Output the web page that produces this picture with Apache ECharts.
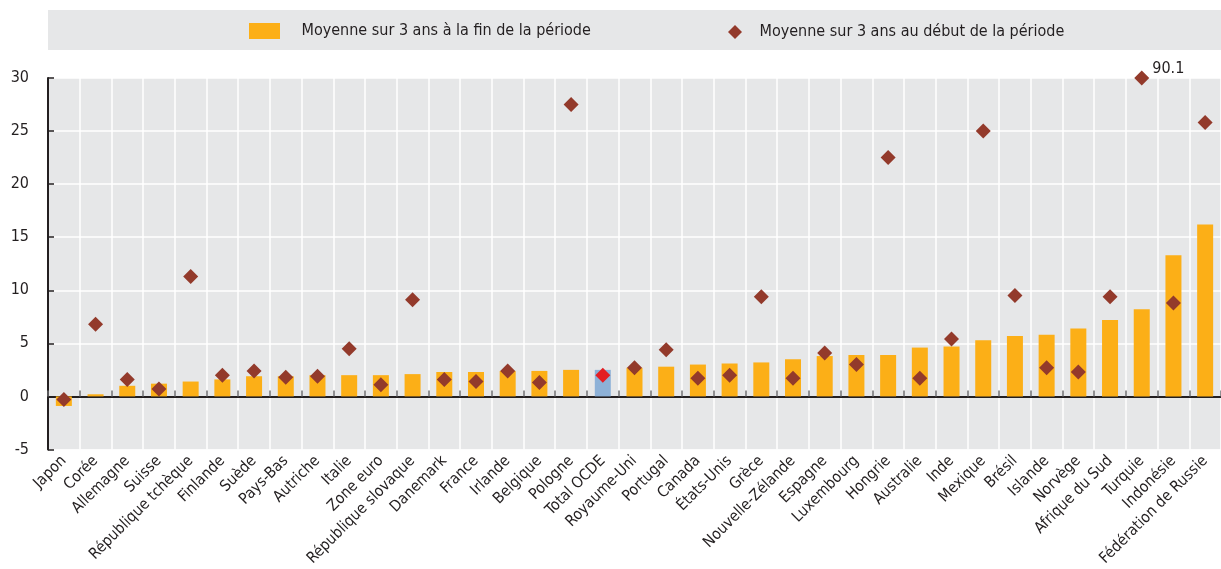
<!DOCTYPE html>
<html>
<head>
<meta charset="utf-8">
<script src="https://cdn.jsdelivr.net/npm/echarts@6/dist/echarts.min.js"></script>
<style>
html,body{margin:0;padding:0;background:#fff;}
#chart{width:1221px;height:569px;}
</style>
</head>
<body>
<div id="chart"></div>
<script>
const categories = ["Japon","Corée","Allemagne","Suisse","République tchèque","Finlande","Suède","Pays-Bas","Autriche","Italie","Zone euro","République slovaque","Danemark","France","Irlande","Belgique","Pologne","Total OCDE","Royaume-Uni","Portugal","Canada","États-Unis","Grèce","Nouvelle-Zélande","Espagne","Luxembourg","Hongrie","Australie","Inde","Mexique","Brésil","Islande","Norvège","Afrique du Sud","Turquie","Indonésie","Fédération de Russie"];
const endValues = [-0.9,0.2,1.0,1.2,1.4,1.6,1.9,1.9,2.0,2.0,2.0,2.1,2.3,2.3,2.4,2.4,2.5,2.5,2.7,2.8,3.0,3.1,3.2,3.5,3.8,3.9,3.9,4.6,4.7,5.3,5.7,5.8,6.4,7.2,8.2,13.3,16.2];
const startValues = [-0.3,6.8,1.6,0.7,11.3,2.0,2.4,1.8,1.9,4.5,1.1,9.1,1.6,1.4,2.4,1.3,27.5,2.0,2.7,4.4,1.7,2.0,9.4,1.7,4.1,3.0,22.5,1.7,5.4,25.0,9.5,2.7,2.3,9.4,90.1,8.8,25.8];
const seriesNames = ["Moyenne sur 3 ans à la fin de la période","Moyenne sur 3 ans au début de la période"];
const highlightCategory = "Total OCDE";
const yMin = -5, yMax = 30, yInterval = 5;

const FONT = "'DejaVu Sans Condensed','Liberation Sans Narrow','Roboto',sans-serif";
const TEXT = '#231f20';
const ORANGE = '#fcaf17';
const BROWN = '#933a2b';

const barData = endValues.map((v, i) => categories[i] === highlightCategory
  ? {value: v, itemStyle: {color: '#8db1d7'}} : v);
const scatterData = startValues.map((v, i) => {
  const item = {value: Math.min(v, yMax)};
  if (categories[i] === highlightCategory) item.itemStyle = {color: '#e31e24'};
  if (v > yMax) item.label = {show: true, formatter: String(v)};
  return item;
});

const chart = echarts.init(document.getElementById('chart'));
chart.setOption({
  animation: false,
  textStyle: {fontFamily: FONT, color: TEXT},
  graphic: [{type: 'rect', left: 48, top: 10, shape: {width: 1180, height: 40}, style: {fill: '#e6e7e8'}, z: -1}],
  legend: [
    {data: [{name: seriesNames[0], icon: 'rect'}], left: 249, top: 23, padding: 0, itemWidth: 31, itemHeight: 16,
     textStyle: {fontFamily: FONT, fontSize: 16, color: TEXT, padding: [0, 0, 0, 16.5]}},
    {data: [{name: seriesNames[1], icon: 'diamond'}], left: 728, top: 24, padding: 0, itemWidth: 14, itemHeight: 14,
     textStyle: {fontFamily: FONT, fontSize: 16, color: TEXT, padding: [0, 0, 0, 12.5]}}
  ],
  grid: {left: 48, right: -8, top: 78, bottom: 118, show: true, backgroundColor: '#e6e7e8', borderWidth: 0},
  xAxis: [
    {type: 'category', data: categories, position: 'bottom',
     axisLine: {show: false, onZero: false}, axisTick: {show: false},
     splitLine: {show: true, interval: 0, lineStyle: {color: '#ffffff', width: 1.5}},
     axisLabel: {rotate: 45, interval: 0, fontSize: 15.5, color: TEXT, fontFamily: FONT, margin: 9}},
    {type: 'category', data: categories, position: 'top',
     axisLine: {show: true, onZero: true, lineStyle: {color: TEXT, width: 2}},
     axisTick: {show: true, interval: 0, inside: false, length: 6, lineStyle: {color: '#6d6e70', width: 1.5}},
     axisLabel: {show: false}, splitLine: {show: false}}
  ],
  yAxis: {type: 'value', min: yMin, max: yMax, interval: yInterval,
    axisLine: {show: true, lineStyle: {color: TEXT, width: 2}},
    axisTick: {show: true, inside: true, length: 6, lineStyle: {color: TEXT, width: 1.5}},
    splitLine: {show: true, lineStyle: {color: '#ffffff', width: 1.5}},
    axisLabel: {fontSize: 16, color: TEXT, fontFamily: FONT, margin: 19}},
  series: [
    {name: seriesNames[0], type: 'bar', data: barData, barWidth: 16, itemStyle: {color: ORANGE}, xAxisIndex: 0, z: 2},
    {name: seriesNames[1], type: 'scatter', data: scatterData, symbol: 'diamond', symbolSize: [15, 15],
     itemStyle: {color: BROWN, opacity: 1}, xAxisIndex: 0, z: 3, clip: false,
     label: {show: false, position: 'right', offset: [-2, -9], fontSize: 16, color: TEXT, fontFamily: FONT}}
  ]
});
</script>
</body>
</html>
